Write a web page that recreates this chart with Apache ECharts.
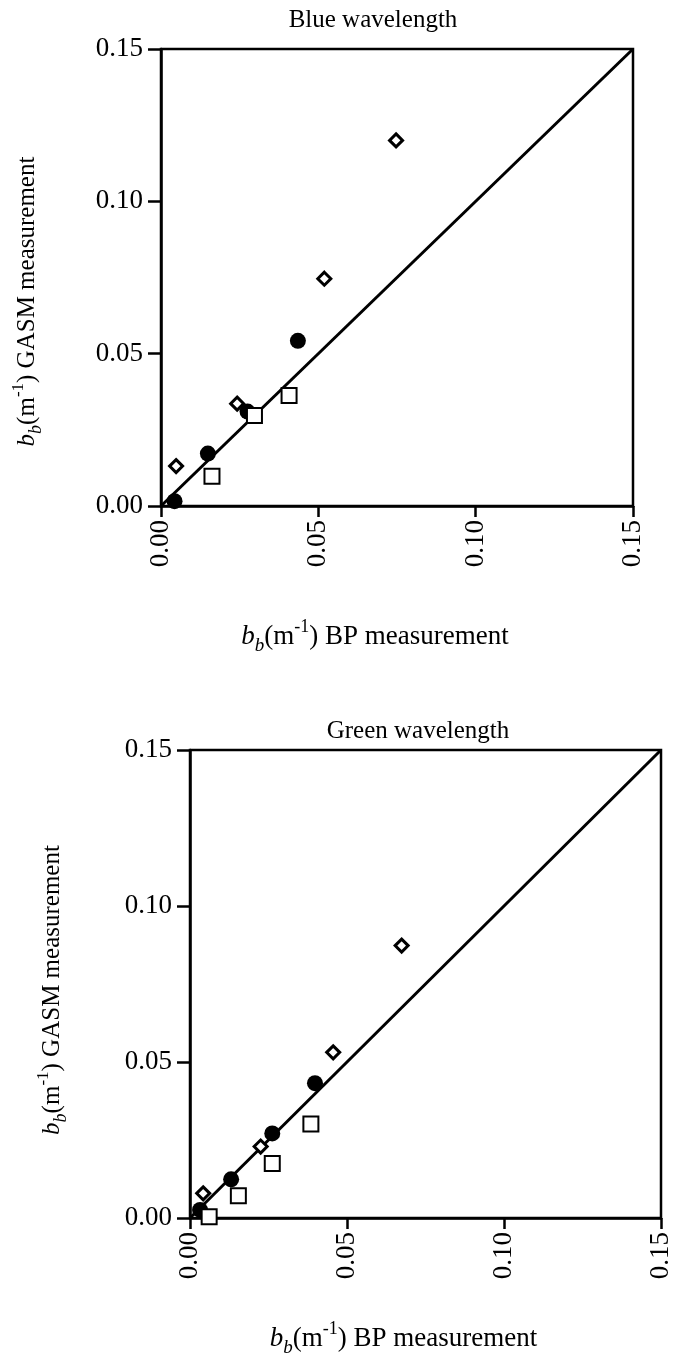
<!DOCTYPE html>
<html>
<head>
<meta charset="utf-8">
<script src="https://cdn.jsdelivr.net/npm/echarts@6/dist/echarts.min.js"></script>
<style>
  html, body { margin: 0; padding: 0; background: #fff; }
  #chart { width: 677px; height: 1361px; }
</style>
</head>
<body>
<div id="chart"></div>
<script>
// tick values shared by both panels
var tickValues = [0.00, 0.05, 0.10, 0.15];
var panelTitles = ['Blue wavelength', 'Green wavelength'];

// blue wavelength: [BP, GASM]
var blueCircles  = [[0.0043, 0.0016], [0.0149, 0.0172], [0.0275, 0.0310], [0.0435, 0.0542]];
var blueSquares  = [[0.0162, 0.0098], [0.0297, 0.0297], [0.0407, 0.0363]];
var blueDiamonds = [[0.0048, 0.0131], [0.0242, 0.0336], [0.0519, 0.0746], [0.0747, 0.1200]];

// green wavelength: [BP, GASM]
var greenCircles  = [[0.0032, 0.0026], [0.0131, 0.0124], [0.0262, 0.0271], [0.0398, 0.0432]];
var greenSquares  = [[0.0061, 0.0004], [0.0154, 0.0071], [0.0262, 0.0175], [0.0385, 0.0301]];
var greenDiamonds = [[0.0042, 0.0079], [0.0225, 0.0229], [0.0456, 0.0531], [0.0674, 0.0873]];

// 1:1 line
var oneToOne = [[0, 0], [0.15, 0.15]];

var FONT = 'Liberation Serif';

function richFor(size) {
    return {
        b:   { fontFamily: FONT, fontSize: size, fontStyle: 'italic', color: '#000', lineHeight: size + 10 },
        sub: { fontFamily: FONT, fontSize: Math.round(size * 0.72), fontStyle: 'italic', color: '#000',
               lineHeight: Math.round(size * 0.6), verticalAlign: 'bottom' },
        sup: { fontFamily: FONT, fontSize: Math.round(size * 0.66), color: '#000',
               lineHeight: Math.round(size * 0.55), verticalAlign: 'top' },
        t:   { fontFamily: FONT, fontSize: size, color: '#000', lineHeight: size + 10 }
    };
}
function axisTitle(rest) {
    return '{b|b}{sub|b}{t|(m}{sup|-1}{t|) ' + rest + '}';
}
function fmt(v) { return v.toFixed(2); }

function xAxisFor(idx, gap) {
    return {
        type: 'value', gridIndex: idx, min: 0, max: 0.15, interval: 0.05,
        name: axisTitle('BP measurement'), nameLocation: 'middle', nameGap: gap,
        nameTextStyle: { rich: richFor(27), padding: [0, 44, 0, 0] },
        axisLine: { show: true, onZero: false, lineStyle: { color: '#000', width: 2.5 } },
        axisTick: { show: true, inside: false, length: 11, lineStyle: { color: '#000', width: 2.5 } },
        axisLabel: { rotate: 90, margin: 14, color: '#000', fontFamily: FONT, fontSize: 27, formatter: fmt },
        splitLine: { show: false }
    };
}
function yAxisFor(idx, gap, shift) {
    return {
        type: 'value', gridIndex: idx, min: 0, max: 0.15, interval: 0.05,
        name: axisTitle('GASM measurement'), nameLocation: 'middle', nameGap: gap, nameRotate: 90,
        nameTextStyle: { rich: richFor(25), padding: [0, shift, 0, 0] },
        axisLine: { show: true, onZero: false, lineStyle: { color: '#000', width: 2.5 } },
        axisTick: { show: true, inside: false, length: 13, lineStyle: { color: '#000', width: 2.5 } },
        axisLabel: { margin: 18, color: '#000', fontFamily: FONT, fontSize: 27, formatter: fmt },
        splitLine: { show: false }
    };
}

function panelSeries(idx, circles, squares, diamonds) {
    return [
        {
            type: 'line', xAxisIndex: idx, yAxisIndex: idx, data: oneToOne,
            symbol: 'none', silent: true, z: 1,
            lineStyle: { color: '#000', width: 3 }
        },
        {
            type: 'scatter', xAxisIndex: idx, yAxisIndex: idx, data: circles,
            symbol: 'circle', symbolSize: 16, z: 2,
            itemStyle: { color: '#000', opacity: 1 }
        },
        {
            type: 'scatter', xAxisIndex: idx, yAxisIndex: idx, data: squares,
            symbol: 'rect', symbolSize: 15, z: 3,
            itemStyle: { color: '#fff', borderColor: '#000', borderWidth: 2, opacity: 1 }
        },
        {
            type: 'scatter', xAxisIndex: idx, yAxisIndex: idx, data: diamonds,
            symbol: 'diamond', symbolSize: 13, z: 4,
            itemStyle: { color: '#fff', borderColor: '#000', borderWidth: 3, opacity: 1 }
        }
    ];
}

var chart = echarts.init(document.getElementById('chart'));
var option = {
    backgroundColor: '#fff',
    animation: false,
    title: [
        { text: panelTitles[0], left: 368, top: 3, textAlign: 'center',
          textStyle: { fontFamily: FONT, fontSize: 25, fontWeight: 'normal', color: '#000' } },
        { text: panelTitles[1], left: 413, top: 714, textAlign: 'center',
          textStyle: { fontFamily: FONT, fontSize: 25, fontWeight: 'normal', color: '#000' } }
    ],
    grid: [
        { left: 161, top: 49, width: 472, height: 457, show: true, borderColor: '#000', borderWidth: 2.5 },
        { left: 190, top: 750, width: 471, height: 468, show: true, borderColor: '#000', borderWidth: 2.5 }
    ],
    xAxis: [xAxisFor(0, 112), xAxisFor(1, 102)],
    yAxis: [yAxisFor(0, 116, 48), yAxisFor(1, 120, 12)],
    series: []
        .concat(panelSeries(0, blueCircles, blueSquares, blueDiamonds))
        .concat(panelSeries(1, greenCircles, greenSquares, greenDiamonds))
};
chart.setOption(option);
</script>
</body>
</html>
